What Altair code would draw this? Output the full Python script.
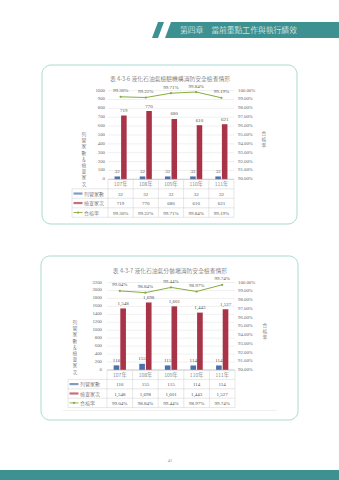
import altair as alt
import pandas as pd

YEARS = ["107年", "108年", "109年", "110年", "111年"]
SERIES = ["列管家數", "檢查家次", "合格率"]

T1_TITLE = "表 4-3-6 液化石油氣檢驗機構消防安全檢查情形"
T1_MANAGED = [32, 32, 32, 32, 32]
T1_INSPECT = [719, 770, 680, 610, 621]
T1_RATE = [99.30, 99.22, 99.71, 99.84, 99.19]
T1_LEFT_TICKS = [0, 100, 200, 300, 400, 500, 600, 700, 800, 900, 1000]

T2_TITLE = "表 4-3-7 液化石油氣分裝場消防安全檢查情形"
T2_MANAGED = [116, 155, 115, 114, 114]
T2_INSPECT = [1548, 1698, 1601, 1443, 1527]
T2_RATE = [99.04, 98.84, 99.44, 98.97, 99.74]
T2_LEFT_TICKS = [0, 200, 400, 600, 800, 1000, 1200, 1400, 1600, 1800, 2000, 2200]

RIGHT_TICKS = [90, 91, 92, 93, 94, 95, 96, 97, 98, 99, 100]
LEFT_TITLE = "列管家數＆檢查家次"
RIGHT_TITLE = "合格率"
HEADER = "第四章　當前重點工作與執行績效"
PAGE_NO = "41"

BLUE = "#4a70ad"
RED = "#a93448"
GREEN = "#86ad3f"
TEAL = "#3d9191"
BOXC = "#a9dbd3"
CJK = "Noto Sans CJK TC"
NUM = "Liberation Serif"
TXT = "#555555"

ONE = pd.DataFrame({"k": [0]})


def fmt_int(v):
    return f"{v:,}"


def section(title, managed, inspect, rate, left_ticks, g):
    box = alt.Chart(ONE).mark_rect(cornerRadius=9, fill="white", stroke=BOXC, strokeWidth=1).encode(
        x=alt.value(g["bx0"]), x2=alt.value(g["bx1"]), y=alt.value(g["by0"]), y2=alt.value(g["by1"]))
    ttl = alt.Chart(ONE).mark_text(text=title, font=CJK, fontSize=5.8, fontWeight=300,
                                   color="#4a4a4a").encode(x=alt.value(170), y=alt.value(g["ty"]))
    ltitle = alt.Chart(ONE).mark_text(text=list(LEFT_TITLE), font=CJK, fontSize=4.8, lineHeight=6.2,
                                      fontWeight=300, color=TXT, baseline="middle").encode(
        x=alt.value(g["ltx"]), y=alt.value(g["lty"]))
    rtitle = alt.Chart(ONE).mark_text(text=list(RIGHT_TITLE), font=CJK, fontSize=4.8, lineHeight=6.2,
                                      fontWeight=300, color=TXT, baseline="middle").encode(
        x=alt.value(g["rtx"]), y=alt.value(g["rty"]))
    deco_layers = [box, ttl, ltitle, rtitle]
    if g.get("faint") is not None:
        deco_layers.append(alt.Chart(ONE).mark_rule(color="#ececec", strokeWidth=0.8).encode(
            x=alt.value(63), x2=alt.value(277), y=alt.value(g["faint"])))
    deco = alt.layer(*deco_layers)

    xband = alt.Scale(domain=YEARS, range=[g["x0"], g["x1"]], paddingInner=0.52, paddingOuter=0.26)
    yleft = alt.Scale(domain=[0, left_ticks[-1]], range=[g["ybot"], g["ytop"]], nice=False, zero=True)
    bar_df = pd.DataFrame({
        "year": YEARS * 2,
        "series": [SERIES[0]] * 5 + [SERIES[1]] * 5,
        "value": list(managed) + list(inspect),
    })
    bar_df["label"] = bar_df["value"].map(fmt_int)
    grid_df = pd.DataFrame({"v": left_ticks})
    grid_df["t"] = grid_df["v"].map(str)

    X = alt.X("year:N", scale=xband, axis=None, sort=YEARS)
    XO = alt.XOffset("series:N", sort=SERIES[:2],
                     scale=alt.Scale(domain=SERIES[:2], paddingInner=0.15, paddingOuter=0))
    Y = alt.Y("value:Q", scale=yleft, axis=None)
    grid = alt.Chart(grid_df).mark_rule(color="#e0e0e0", strokeWidth=0.5).encode(
        y=alt.Y("v:Q", scale=yleft, axis=None), x=alt.value(g["x0"]), x2=alt.value(g["x1"]))
    ticks = alt.Chart(grid_df).mark_text(align="right", baseline="middle", font=NUM, fontSize=4.8,
                                         color="#666666").encode(
        y=alt.Y("v:Q", scale=yleft, axis=None), x=alt.value(g["llx"]), text="t:N")
    bars = alt.Chart(bar_df).mark_bar().encode(
        x=X, xOffset=XO, y=Y,
        color=alt.Color("series:N", scale=alt.Scale(domain=SERIES[:2], range=[BLUE, RED]), legend=None))
    blabels = alt.Chart(bar_df).mark_text(dy=-2.5, baseline="bottom", font=NUM, fontSize=5,
                                          color=TXT).encode(x=X, xOffset=XO, y=Y, text="label:N")
    bars_child = alt.layer(grid, ticks, bars, blabels)

    xcat = alt.Scale(domain=YEARS, range=[g["x0"], g["x1"]], paddingInner=0, paddingOuter=0)
    yright = alt.Scale(domain=[90, 100], range=[g["ybot"], g["ytop"]], nice=False, zero=False)
    line_df = pd.DataFrame({"year": YEARS, "rate": rate})
    line_df["label"] = line_df["rate"].map(lambda v: f"{v:.2f}%")
    rt_df = pd.DataFrame({"v": RIGHT_TICKS})
    rt_df["t"] = rt_df["v"].map(lambda v: f"{v:.2f}%")
    XL = alt.X("year:N", scale=xcat, axis=None, sort=YEARS)
    YL = alt.Y("rate:Q", scale=yright, axis=None)
    line = alt.Chart(line_df).mark_line(color=GREEN, strokeWidth=1).encode(x=XL, y=YL)
    pts = alt.Chart(line_df).mark_point(filled=True, size=5, color=GREEN, opacity=1).encode(x=XL, y=YL)
    llabels = alt.Chart(line_df).mark_text(dy=-3.5, baseline="bottom", font=NUM, fontSize=5,
                                           color=TXT).encode(x=XL, y=YL, text="label:N")
    rticks = alt.Chart(rt_df).mark_text(align="left", baseline="middle", font=NUM, fontSize=4.8,
                                        color="#666666").encode(
        y=alt.Y("v:Q", scale=yright, axis=None), x=alt.value(g["rlx"]), text="t:N")
    line_child = alt.layer(line, pts, llabels, rticks)

    rh = g["rh"]
    yrow = alt.Scale(domain=[0, 4], range=[g["ybot"], g["ybot"] + 4 * rh], nice=False, zero=False)
    YR = alt.Y("r:Q", scale=yrow, axis=None)
    XT = alt.X("year:N", scale=xcat, axis=None, sort=YEARS)
    head_df = pd.DataFrame({"year": YEARS, "r": [0.5] * 5, "t": YEARS})
    cell_df = pd.DataFrame({
        "year": YEARS * 3,
        "r": [1.5] * 5 + [2.5] * 5 + [3.5] * 5,
        "t": [fmt_int(v) for v in managed] + [fmt_int(v) for v in inspect] + [f"{v:.2f}%" for v in rate],
    })
    head = alt.Chart(head_df).mark_text(font=CJK, fontSize=5.2, fontWeight=300, color=TXT,
                                        baseline="middle").encode(x=XT, y=YR, text="t:N")
    cells = alt.Chart(cell_df).mark_text(font=NUM, fontSize=5, color=TXT, baseline="middle").encode(
        x=XT, y=YR, text="t:N")
    hl_df = pd.DataFrame({"r": [1, 2, 3, 4]})
    hlines = alt.Chart(hl_df).mark_rule(color="#cfcfcf", strokeWidth=0.5).encode(
        y=YR, x=alt.value(g["lx"]), x2=alt.value(g["x1"]))
    axl = alt.Chart(pd.DataFrame({"r": [0]})).mark_rule(color="#b0b0b0", strokeWidth=0.6).encode(
        y=YR, x=alt.value(g["x0"]), x2=alt.value(g["x1"]))
    vl_df = pd.DataFrame({"year": YEARS})
    vlines = alt.Chart(vl_df).mark_rule(color="#cfcfcf", strokeWidth=0.5).encode(
        x=alt.X("year:N", scale=xcat, axis=None, sort=YEARS, bandPosition=0),
        y=alt.value(g["ybot"]), y2=alt.value(g["ybot"] + 4 * rh))
    redge = alt.Chart(ONE).mark_rule(color="#cfcfcf", strokeWidth=0.5).encode(
        x=alt.value(g["x1"]), y=alt.value(g["ybot"]), y2=alt.value(g["ybot"] + 4 * rh))
    ledge = alt.Chart(ONE).mark_rule(color="#cfcfcf", strokeWidth=0.5).encode(
        x=alt.value(g["lx"]), y=alt.value(g["ybot"] + rh), y2=alt.value(g["ybot"] + 4 * rh))
    leg_df = pd.DataFrame({"series": SERIES, "r": [1.5, 2.5, 3.5]})
    sw = alt.Chart(leg_df.iloc[:2]).mark_tick(orient="horizontal", thickness=2.2, size=9).encode(
        y=YR, x=alt.value(g["lx"] + 6),
        color=alt.Color("series:N", scale=alt.Scale(domain=SERIES[:2], range=[BLUE, RED]), legend=None))
    gl = alt.Chart(leg_df.iloc[2:]).mark_tick(orient="horizontal", thickness=0.9, size=9, color=GREEN,
                                              opacity=1).encode(y=YR, x=alt.value(g["lx"] + 6))
    gp = alt.Chart(leg_df.iloc[2:]).mark_point(filled=True, size=5, color=GREEN, opacity=1).encode(
        y=YR, x=alt.value(g["lx"] + 6))
    leg_t = alt.Chart(leg_df).mark_text(align="left", baseline="middle", font=CJK, fontSize=5,
                                        fontWeight=300, color=TXT).encode(
        y=YR, x=alt.value(g["lx"] + 12), text="series:N")
    table_child = alt.layer(axl, hlines, vlines, redge, ledge, head, cells, sw, gl, gp, leg_t)

    return deco, [bars_child, line_child, table_child]


G1 = dict(bx0=42, bx1=297, by0=65, by1=224, ty=79,
          x0=108, x1=234, ytop=90.6, ybot=179.3, llx=105, rlx=238,
          ltx=84, lty=135, rtx=264, rty=134, lx=72, rh=9.5, faint=None)
G2 = dict(bx0=41, bx1=298, by0=256, by1=420, ty=271,
          x0=107, x1=235, ytop=282.5, ybot=370, llx=102, rlx=238,
          ltx=75, lty=323, rtx=265, rty=326, lx=68, rh=9.4, faint=410.5)

deco1, kids1 = section(T1_TITLE, T1_MANAGED, T1_INSPECT, T1_RATE, T1_LEFT_TICKS, G1)
deco2, kids2 = section(T2_TITLE, T2_MANAGED, T2_INSPECT, T2_RATE, T2_LEFT_TICKS, G2)

band_path = "M152,38L158,22L164,22L158,38Z M165,38L171,22L339,22L339,38Z"
header_band = alt.Chart(ONE).mark_point(shape=band_path, size=4, filled=True, fill=TEAL,
                                        opacity=1, strokeWidth=0).encode(x=alt.value(0), y=alt.value(0))
header_text = alt.Chart(ONE).mark_text(text=HEADER, font=CJK, fontSize=7.8, fontWeight=300,
                                       color="white", align="left", baseline="middle").encode(
    x=alt.value(180), y=alt.value(30.5))
footer = alt.Chart(ONE).mark_rect(fill=TEAL).encode(
    x=alt.value(0), x2=alt.value(339), y=alt.value(470), y2=alt.value(480))
pageno = alt.Chart(ONE).mark_text(text=PAGE_NO, font=NUM, fontSize=4.5, color="#888888").encode(
    x=alt.value(170), y=alt.value(461))
header = alt.layer(header_band, header_text, footer, pageno)

chart = alt.layer(header, deco1, deco2, *kids1, *kids2).resolve_scale(
    x="independent", y="independent", xOffset="independent", color="independent"
).properties(
    width=339, height=480, padding=0, autosize=alt.AutoSizeParams(type="none"), background="white"
).configure_view(stroke=None)

chart.save("out.html", embed_options={"renderer": "svg", "actions": False})
